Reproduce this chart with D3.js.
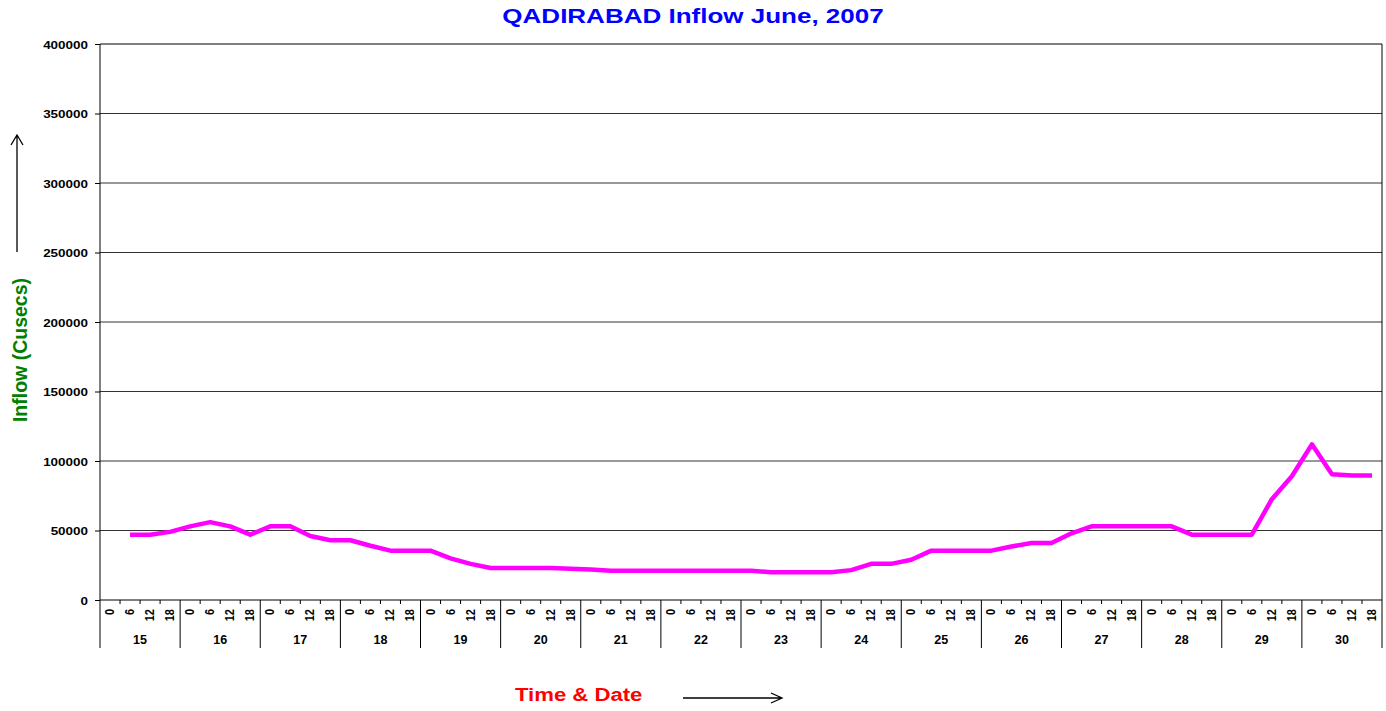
<!DOCTYPE html>
<html>
<head>
<meta charset="utf-8">
<script src="https://cdn.jsdelivr.net/npm/d3@7"></script>
<style>
  body { margin: 0; background: #fff; }
  text { font-family: "Liberation Sans", Arial, sans-serif; font-weight: bold; }
</style>
</head>
<body>
<svg id="chart" width="1386" height="711"></svg>
<script>
// data
var days = [15, 16, 17, 18, 19, 20, 21, 22, 23, 24, 25, 26, 27, 28, 29, 30];
var hours = [0, 6, 12, 18];
// one value per 6-hour slot, 15th 0h .. 30th 18h (first slot empty)
var inflow = [
  null, 47000, 47000, 49000,
  53000, 56000, 53000, 47000,
  53000, 53000, 46000, 43000,
  43000, 39000, 35500, 35500,
  35500, 30000, 26000, 23000,
  23000, 23000, 23000, 22500,
  22000, 21000, 21000, 21000,
  21000, 21000, 21000, 21000,
  21000, 20000, 20000, 20000,
  20000, 21500, 26000, 26000,
  29000, 35500, 35500, 35500,
  35500, 38500, 41000, 41000,
  48000, 53000, 53000, 53000,
  53000, 53000, 47000, 47000,
  47000, 47000, 72500, 89000,
  112000, 90500, 89500, 89500
];
var yTicks = [0, 50000, 100000, 150000, 200000, 250000, 300000, 350000, 400000];

var svg = d3.select("#chart");
var plotLeft = 100, plotRight = 1382, plotTop = 44, plotBottom = 600;
var nSlots = days.length * hours.length;

// setup scales
var xScale = d3.scaleLinear().domain([0, nSlots]).range([plotLeft, plotRight]);
var yScale = d3.scaleLinear().domain([0, 400000]).range([plotBottom, plotTop]);

// gridlines
svg.append("g").selectAll("line")
  .data(yTicks.filter(function(d) { return d > 0; }))
  .enter().append("line")
  .attr("x1", plotLeft).attr("x2", plotRight)
  .attr("y1", function(d) { return yScale(d); })
  .attr("y2", function(d) { return yScale(d); })
  .style("stroke", function(d) { return d === 400000 ? "#000" : "#333"; })
  .style("stroke-width", 1);

// y axis
var yAxis = d3.axisLeft(yScale).tickValues(yTicks).tickSize(5).tickPadding(7).tickFormat(d3.format("d"));
var gy = svg.append("g")
  .attr("transform", "translate(" + plotLeft + ",0)")
  .call(yAxis);
gy.select(".domain").remove();
gy.selectAll(".tick line").style("stroke", "#000");
gy.selectAll(".tick text")
  .style("font-size", "11.5px")
  .attr("x", null).attr("dy", null)
  .attr("transform", "translate(-12,4) scale(1.17,1)")
  .style("fill", "#000");

// frame lines
svg.append("line").attr("x1", plotLeft).attr("x2", plotLeft).attr("y1", plotTop).attr("y2", 648).style("stroke", "#000");
svg.append("line").attr("x1", plotRight).attr("x2", plotRight).attr("y1", plotTop).attr("y2", 648).style("stroke", "#000");
svg.append("line").attr("x1", plotLeft).attr("x2", plotRight).attr("y1", plotBottom).attr("y2", plotBottom).style("stroke", "#000");

// x minor ticks (slot boundaries) and day separators
svg.append("g").selectAll("line")
  .data(d3.range(1, nSlots))
  .enter().append("line")
  .attr("x1", function(d) { return xScale(d); })
  .attr("x2", function(d) { return xScale(d); })
  .attr("y1", plotBottom)
  .attr("y2", function(d) { return d % 4 === 0 ? 648 : 604; })
  .style("stroke", "#000");

// hour labels
svg.append("g").selectAll("text")
  .data(d3.range(nSlots))
  .enter().append("text")
  .attr("transform", function(d) { return "translate(" + (xScale(d + 0.5) + 4) + ",609) rotate(-90) scale(1,1.15)"; })
  .style("text-anchor", "end")
  .style("font-size", "11px")
  .text(function(d) { return hours[d % 4]; });

// day labels
svg.append("g").selectAll("text")
  .data(days)
  .enter().append("text")
  .attr("x", function(d, i) { return xScale(i * 4 + 2); })
  .attr("y", 644)
  .style("text-anchor", "middle")
  .style("font-size", "12.5px")
  .text(function(d) { return d; });

// inflow line
var line = d3.line()
  .defined(function(d) { return d !== null; })
  .x(function(d, i) { return xScale(i + 0.5); })
  .y(function(d) { return yScale(d); });

svg.append("path")
  .datum(inflow)
  .attr("d", line)
  .style("fill", "none")
  .style("stroke", "#ff00ff")
  .style("stroke-width", 4.5)
  .style("stroke-linejoin", "round");

// title
svg.append("text")
  .attr("transform", "translate(693,23) scale(1.3,1)")
  .style("text-anchor", "middle")
  .style("font-size", "20px")
  .style("fill", "#0000ff")
  .text("QADIRABAD Inflow June, 2007");

// y label + arrow
svg.append("text")
  .attr("transform", "translate(27,350) rotate(-90)")
  .style("text-anchor", "middle")
  .style("font-size", "19.5px")
  .style("fill", "#008000")
  .text("Inflow (Cusecs)");

svg.append("path")
  .attr("d", "M17,252 L17,135 M11,145 L17,135 L23,145")
  .style("fill", "none").style("stroke", "#000").style("stroke-width", 1.3);

// x label + arrow
svg.append("text")
  .attr("transform", "translate(515,701) scale(1.23,1)")
  .style("font-size", "18px")
  .style("fill", "#ff0000")
  .text("Time & Date");

svg.append("path")
  .attr("d", "M683,698 L782,698 M771,693 L782,698 L771,703")
  .style("fill", "none").style("stroke", "#000").style("stroke-width", 1.3);
</script>
</body>
</html>
